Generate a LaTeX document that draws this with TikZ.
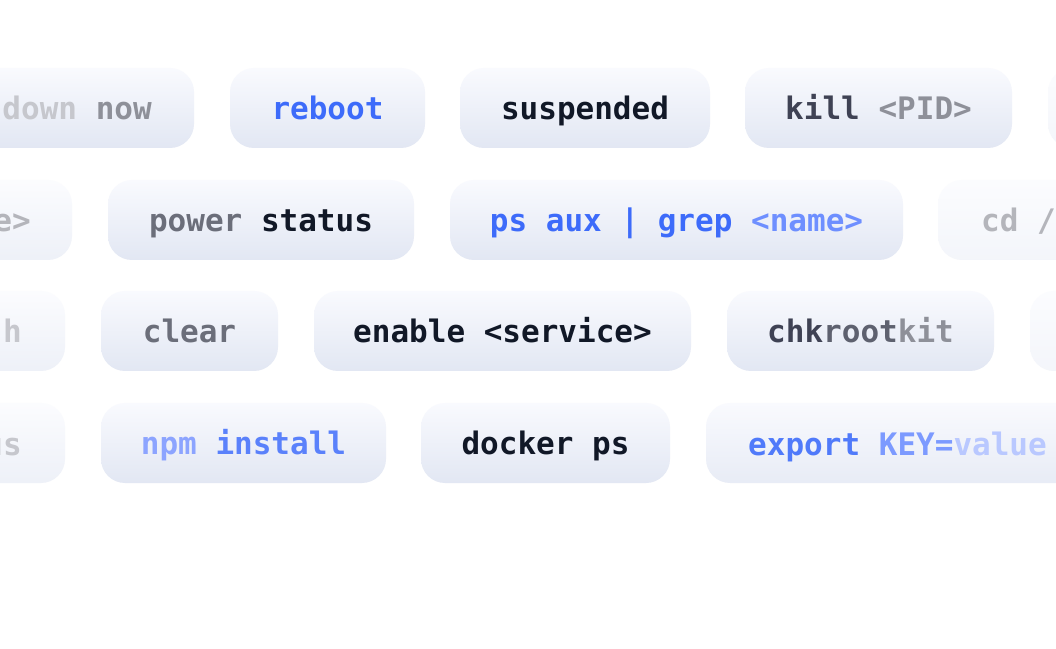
\documentclass[tikz,border=0pt]{standalone}
\usepackage{fontspec}
\setmonofont{DejaVu Sans Mono}
\begin{document}
\definecolor{gA}{HTML}{C6C7CD}
\definecolor{gB}{HTML}{8E9099}
\definecolor{blu}{HTML}{3D6BFA}
\definecolor{blu2}{HTML}{6E8FFF}
\definecolor{blu3}{HTML}{8CA4FF}
\definecolor{blu4}{HTML}{B9C8FF}
\definecolor{dk}{HTML}{111827}
\definecolor{dk2}{HTML}{3F4254}
\definecolor{md}{HTML}{6B6E7A}
\definecolor{lt}{HTML}{B4B5BB}
\definecolor{ptop}{HTML}{F9FAFE}
\definecolor{pbot}{HTML}{E2E7F3}
\begin{tikzpicture}[x=1pt,y=1pt,
  pill/.style={rounded corners=24pt, top color=ptop, bottom color=pbot, draw=none,
    minimum height=80pt, inner sep=0pt, text height=23pt, text depth=0pt,
    font=\ttfamily\bfseries\fontsize{31}{31}\selectfont},
  txt/.style={inner sep=0pt, font=\ttfamily\bfseries\fontsize{31}{31}\selectfont, anchor=base}]
\fill[white] (0,0) rectangle (1056,648);
\useasboundingbox (0,0) rectangle (1056,648);
\begin{scope}
\clip (0,0) rectangle (1056,648);
% row 1 (y center 540)
\node[pill, minimum width=260pt] (a1) at (64,540) {};
\node[txt, anchor=base east] (t1) at (152,528) {\color{gA}tdown \color{gB}now};
\node[pill, minimum width=195pt] (a2) at (327.5,540) {\color{blu}reboot};
\node[pill, minimum width=250pt] (a3) at (585,540) {\color{dk}suspended};
\node[pill, minimum width=267pt] (a4) at (878.5,540) {\color{dk2}kill \color{gB}<PID>};
\node[pill, minimum width=120pt, top color=ptop!60!white, bottom color=pbot!40!white] (a5) at (1108,540) {};
% row 2 (y center 428)
\node[pill, minimum width=150pt, top color=ptop!60!white, bottom color=pbot!60!white] (b1) at (-3,428) {};
\node[txt, anchor=base east] (t2) at (31,416) {\color{lt}e>};
\node[pill, minimum width=306pt] (b2) at (261,428) {\color{md}power \color{dk}status};
\node[pill, minimum width=453pt] (b3) at (676.5,428) {\color{blu}ps aux | grep \color{blu2}<name>};
\node[pill, minimum width=200pt, top color=ptop!60!white, bottom color=pbot!40!white] (b4) at (1038,428) {};
\node[txt, anchor=base west] (t3) at (981,416) {\color{lt}cd /s};
% row 3 (y center 317)
\node[pill, minimum width=140pt, top color=ptop!60!white, bottom color=pbot!60!white] (c1) at (-5,317) {};
\node[txt, anchor=base east] (t4) at (22,305) {\color{gA}-h};
\node[pill, minimum width=177pt] (c2) at (189.5,317) {\color{md}clear};
\node[pill, minimum width=377pt] (c3) at (502.5,317) {\color{dk}enable <service>};
\node[pill, minimum width=267pt] (c4) at (860.5,317) {\color{dk2}chk\color{md!70!dk2}root\color{gB}kit};
\node[pill, minimum width=120pt, top color=ptop!60!white, bottom color=pbot!40!white] (c5) at (1090,317) {};
% row 4 (y center 205)
\node[pill, minimum width=140pt, top color=ptop!60!white, bottom color=pbot!60!white] (d1) at (-5,205) {};
\node[txt, anchor=base east] (t5) at (22,193) {\color{gA}us};
\node[pill, minimum width=285pt] (d2) at (243.5,205) {\color{blu3}npm \color{blu!85!white}install};
\node[pill, minimum width=249pt] (d3) at (545.5,205) {\color{dk}docker ps};
\node[pill, minimum width=400pt, top color=ptop, bottom color=pbot!80!white] (d4) at (906,205) {};
\node[txt, anchor=base west] (t6) at (748,193) {\color{blu!90!white}export \color{blu2!90!white}KEY=\color{blu4}value};
\end{scope}
\end{tikzpicture}
\end{document}
